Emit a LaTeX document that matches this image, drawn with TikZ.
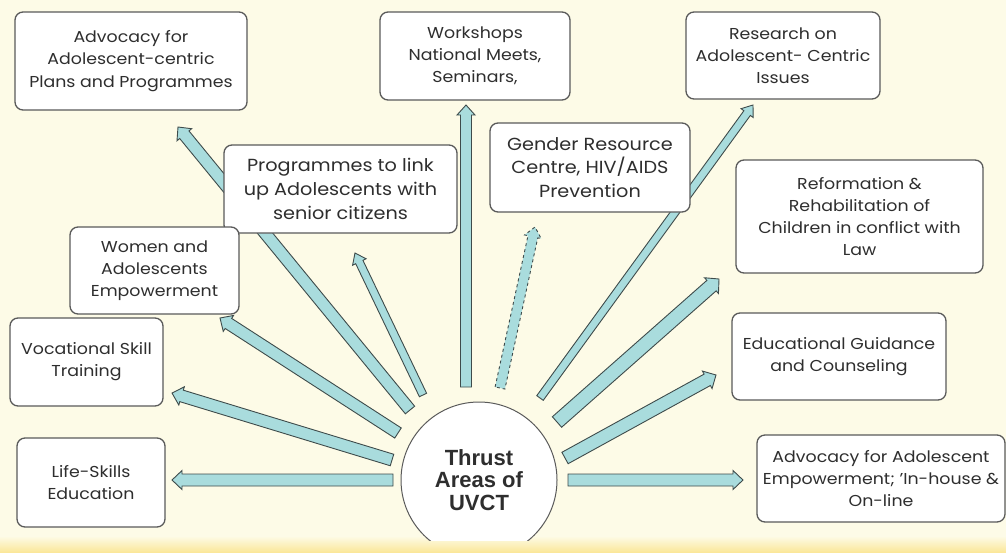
\documentclass[tikz,border=0pt]{standalone}
\usepackage{fontspec}
\setmainfont{Poppins}[FakeStretch=1.1]
\newfontfamily\hubfont{Liberation Sans}
\usetikzlibrary{calc}
\definecolor{bgcream}{HTML}{FDFBE7}
\definecolor{baryel}{HTML}{FBE79A}
\definecolor{arrfill}{HTML}{A9DCDD}
\definecolor{arrline}{HTML}{3E4B4B}
\definecolor{boxline}{HTML}{5A5A5A}
\definecolor{txt}{HTML}{2E2E2E}
\tikzset{
  tbox/.style={draw=boxline, line width=1.3pt, fill=white, rounded corners=8pt,
    align=center, text=txt, inner sep=0pt, font=\fontsize{15.8}{22.2}\selectfont},
  bigbox/.style={tbox, font=\fontsize{17.5}{23.8}\selectfont},
  barrow/.style={draw=arrline, fill=arrfill, line width=0.9pt, line join=miter},
}
\newcommand\blockarrow[4][]{%
  \draw[barrow,#1] let \p1=(#2), \p2=(#3), \p3=($(#3)!10pt!(#2)$) in
    ($(\p1)!#4!90:(\p2)$) -- ($(\p3)!#4!90:(\p2)$) -- ($(\p3)!#4+3.5pt!90:(\p2)$) --
    (\p2) -- ($(\p3)!#4+3.5pt!-90:(\p2)$) -- ($(\p3)!#4!-90:(\p2)$) --
    ($(\p1)!#4!-90:(\p2)$) -- cycle;}
\begin{document}
\begin{tikzpicture}[x=1pt,y=-1pt]
\useasboundingbox (0,0) rectangle (1006,552);
\fill[bgcream] (0,0) rectangle (1006,552);
\shade[top color=bgcream, bottom color=baryel] (0,536) rectangle (1006,552);

% arrow end points
\coordinate (aT) at (410,410); \coordinate (aH) at (178,127);
\coordinate (bT) at (423,395); \coordinate (bH) at (355,253);
\coordinate (cT) at (398,433); \coordinate (cH) at (220,318);
\coordinate (dT) at (392,460); \coordinate (dH) at (172,393);
\coordinate (eT) at (393,480); \coordinate (eH) at (172,480);
\coordinate (fT) at (466,387); \coordinate (fH) at (466,105);
\coordinate (gT) at (500,388); \coordinate (gH) at (535,227);
\coordinate (hT) at (540,398); \coordinate (hH) at (753,105);
\coordinate (iT) at (557,422); \coordinate (iH) at (719,279);
\coordinate (jT) at (565,458); \coordinate (jH) at (716,375);
\coordinate (kT) at (568,480); \coordinate (kH) at (743,480);

\blockarrow{aT}{aH}{6pt}
\blockarrow{bT}{bH}{4pt}
\blockarrow{cT}{cH}{6pt}
\blockarrow{dT}{dH}{6pt}
\blockarrow{eT}{eH}{6pt}
\blockarrow{fT}{fH}{5.5pt}
\blockarrow[dashed]{gT}{gH}{5pt}
\blockarrow{hT}{hH}{4pt}
\blockarrow{iT}{iH}{7pt}
\blockarrow{jT}{jH}{6.5pt}
\blockarrow{kT}{kH}{6pt}

% boxes
\node[tbox, minimum width=232pt, minimum height=98pt] (adv) at (131,61)
  {Advocacy for\\Adolescent-centric\\Plans and Programmes};
\node[tbox, minimum width=190pt, minimum height=88pt] (work) at (475,56)
  {Workshops\\National Meets,\\Seminars,};
\node[tbox, minimum width=194pt, minimum height=87pt] (res) at (783,55.5)
  {Research on\\Adolescent- Centric\\Issues};
\node[bigbox, minimum width=233pt, minimum height=88pt] (prog) at (340.5,189)
  {Programmes to link\\up Adolescents with\\senior citizens};
\node[bigbox, minimum width=200pt, minimum height=89pt] (gend) at (590,167.5)
  {Gender Resource\\Centre, HIV/AIDS\\Prevention};
\node[tbox, minimum width=247pt, minimum height=113pt] (ref) at (859.5,216.5)
  {Reformation \&\\Rehabilitation of\\Children in conflict with\\Law};
\node[tbox, minimum width=169pt, minimum height=87pt] (women) at (154.5,270.5)
  {Women and\\Adolescents\\Empowerment};
\node[tbox, minimum width=153pt, minimum height=88pt] (voc) at (86.5,362)
  {Vocational Skill\\Training};
\node[tbox, minimum width=148pt, minimum height=89pt] (life) at (91,482.5)
  {Life-Skills\\Education};
\node[tbox, minimum width=214pt, minimum height=87pt] (edu) at (839,356.5)
  {Educational Guidance\\and Counseling};
\node[tbox, minimum width=248pt, minimum height=87pt] (emp) at (881,478.5)
  {Advocacy for Adolescent\\Empowerment; 'In-house \&\\On-line};

% hub
\begin{scope}
\clip (0,0) rectangle (1006,540);
\node[circle, draw=boxline, line width=1pt, fill=white, minimum size=156pt, inner sep=0pt,
  align=center, text=txt, font=\hubfont\bfseries\fontsize{22}{22.5}\selectfont] (hub) at (479,480)
  {Thrust\\Areas of\\UVCT};
\end{scope}
\end{tikzpicture}
\end{document}
